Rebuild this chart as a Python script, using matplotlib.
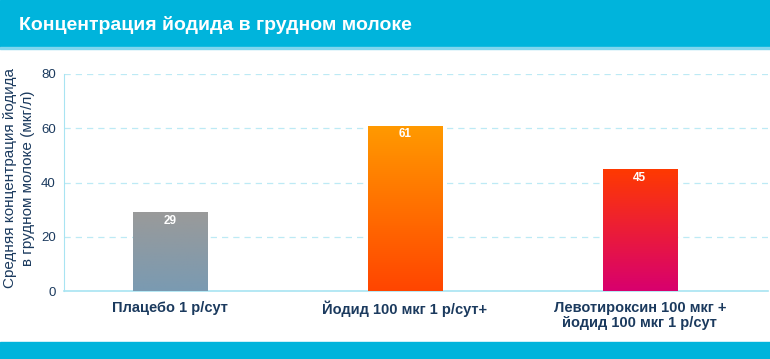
import matplotlib
matplotlib.use("Agg")
import matplotlib.pyplot as plt
import numpy as np
from matplotlib.colors import LinearSegmentedColormap
from matplotlib.patches import Rectangle

categories = ["Плацебо 1 р/сут", "Йодид 100 мкг 1 р/сут+", "Левотироксин 100 мкг +\nйодид 100 мкг 1 р/сут"]
values = [29, 61, 45]
yticks = [0, 20, 40, 60, 80]
title = "Концентрация йодида в грудном молоке"
ylabel = "Средняя концентрация йодида\nв грудном молоке (мкг/л)"
gradients = [("#9A9A9A", "#7A9AB2"), ("#FF9A00", "#FF4500"), ("#FF3A00", "#D8006E")]

plt.rcParams['font.family'] = ['Liberation Sans', 'DejaVu Sans']
W, H = 770, 359
fig = plt.figure(figsize=(W/100, H/100), dpi=100)

navy = "#1B3A5E"
cyan = "#00B4DC"

# banners
fig.patches.append(Rectangle((0, 1 - 47/H), 1, 47/H, transform=fig.transFigure, color=cyan, zorder=0))
fig.patches.append(Rectangle((0, 1 - 49/H), 1, 2/H, transform=fig.transFigure, color="#7FD6EE", zorder=0))
fig.patches.append(Rectangle((0, 0), 1, 17/H, transform=fig.transFigure, color=cyan, zorder=0))
fig.text(19/W, 1 - 25/H, title, color="white", fontsize=14, fontweight="bold", va="center", ha="left")

left, right, top, bottom = 64, 768, 74, 291
ax = fig.add_axes([left/W, 1 - bottom/H, (right-left)/W, (bottom-top)/H])
x = np.arange(len(categories))
bars = ax.bar(x, values, width=0.315, color="none", zorder=3)
for b, (c1, c2), v in zip(bars, gradients, values):
    cmap = LinearSegmentedColormap.from_list("g", [c2, c1])
    grad = np.linspace(0, 1, 256).reshape(-1, 1)
    bx, bw = b.get_x(), b.get_width()
    im = ax.imshow(grad, extent=[bx, bx + bw, 0, v], origin="lower", aspect="auto", cmap=cmap, zorder=3)
    im.set_clip_path(b)
    ax.text(bx + bw/2, v - 1.0, str(v), ha="center", va="top", color="white", fontsize=8.5, fontweight="bold", zorder=4)

ax.set_xlim(-0.451, 2.545)
ax.set_ylim(0, 80)
ax.set_yticks(yticks)
ax.set_yticklabels([str(t) for t in yticks], color=navy, fontsize=9.5)
ax.set_xticks(x)
ax.set_xticklabels(categories, color=navy, fontsize=10.5, fontweight="bold", linespacing=1.15)
ax.tick_params(axis="both", length=0)
ax.tick_params(axis="y", pad=6)
ax.tick_params(axis="x", pad=7)
ax.yaxis.grid(True, linestyle=(0, (5, 4)), color="#BDEAF5", linewidth=0.9, zorder=0)
ax.set_axisbelow(True)
for s in ["top", "right"]:
    ax.spines[s].set_visible(False)
ax.spines["left"].set_color("#A8E4F2")
ax.spines["bottom"].set_color("#A8E4F2")
ax.spines["bottom"].set_linewidth(1.2)
fig.text(19/W, 1 - 178/H, ylabel, rotation=90, ha="center", va="center", color=navy, fontsize=11, linespacing=1.3)

fig.savefig("out.png", dpi=100)
